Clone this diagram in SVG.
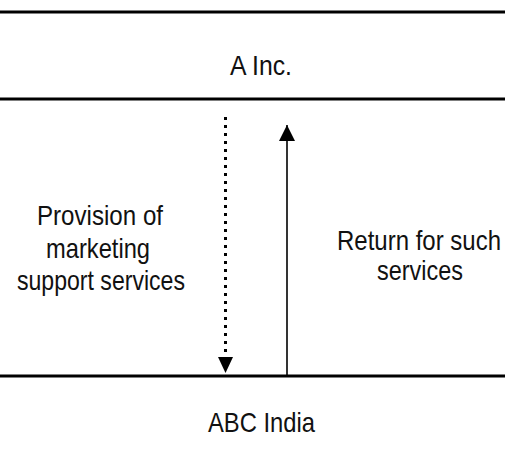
<svg xmlns="http://www.w3.org/2000/svg" width="505" height="463" viewBox="0 0 505 463">
<style>
.box{fill:#fff;stroke:#000;stroke-width:3}
.t{font-family:"Liberation Sans",Arial,sans-serif;font-size:28px;fill:#111}
.dot{stroke:#000;stroke-width:3;stroke-dasharray:3 5;fill:none}
.sol{stroke:#000;stroke-width:1.6;fill:none}
</style>
<defs>
<marker id="ah" markerUnits="userSpaceOnUse" markerWidth="16" markerHeight="16" refX="16" refY="8" orient="auto">
<path d="M0,0 L16,8 L0,16 Z" fill="#000"/>
</marker>
</defs>
<rect width="505" height="463" fill="#fff"/>
<g id="a-inc">
<rect class="box" x="-5" y="12" width="515" height="87"/>
<text class="t" x="230" y="75" textLength="62" lengthAdjust="spacingAndGlyphs">A Inc.</text>
</g>
<g id="abc-india">
<rect class="box" x="-5" y="376" width="515" height="100"/>
<text class="t" x="208" y="432" textLength="107" lengthAdjust="spacingAndGlyphs">ABC India</text>
</g>
<g id="connectors">
<line class="dot" x1="225.5" y1="117" x2="225.5" y2="358"/>
<path d="M218,357 L233,357 L225.5,373 Z" fill="#000"/>
<line class="sol" x1="287" y1="375" x2="287" y2="125" marker-end="url(#ah)"/>
</g>
<g id="labels">
<text class="t" x="37" y="225" textLength="126" lengthAdjust="spacingAndGlyphs">Provision of</text>
<text class="t" x="46" y="258" textLength="104" lengthAdjust="spacingAndGlyphs">marketing</text>
<text class="t" x="17" y="290" textLength="168" lengthAdjust="spacingAndGlyphs">support services</text>
<text class="t" x="337" y="250" textLength="164" lengthAdjust="spacingAndGlyphs">Return for such</text>
<text class="t" x="377" y="280" textLength="86" lengthAdjust="spacingAndGlyphs">services</text>
</g>
</svg>
